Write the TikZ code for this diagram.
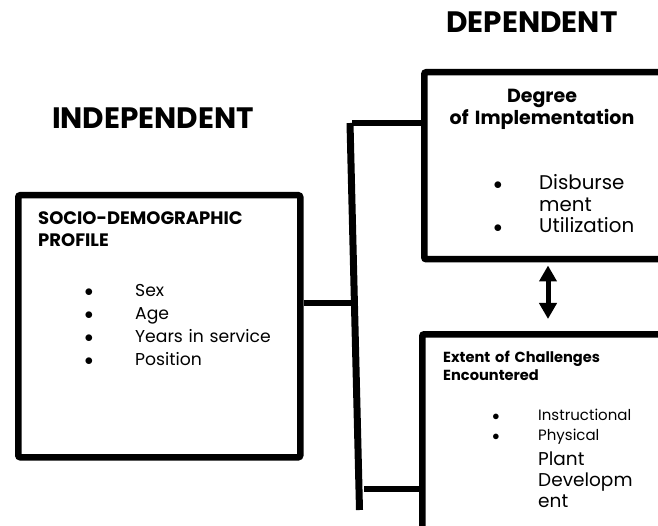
\documentclass[tikz,border=0pt]{standalone}
\usepackage{fontspec}
\setmainfont{Poppins}
\usetikzlibrary{arrows.meta}

\tikzset{
    box/.style={draw, line width=6.5pt, rounded corners=2pt, anchor=north west, inner sep=0pt},
    link/.style={line width=6.5pt},
    biarrow/.style={line width=5pt, {Triangle[width=17pt,length=16pt]}-{Triangle[width=17pt,length=16pt]}},
    heading/.style={font=\bfseries\fontsize{29.5}{32}\selectfont, inner sep=0pt, anchor=base},
    txt/.style={inner sep=0pt, anchor=base west, align=left, text width=#1},
    txt/.default=220pt,
    dots/.style={inner sep=0pt, anchor=base, align=center, text width=10pt}
}

\begin{document}
\begin{tikzpicture}[x=1pt, y=-1pt]
        \useasboundingbox (0,0) rectangle (658,526);

        % Headings
        \node[heading] (Indep) at (153,129) {INDEPENDENT};
        \node[heading] (Dep) at (532,33) {DEPENDENT};

        % Boxes
        \node[box, minimum width=282pt, minimum height=262pt] (Profile) at (15,192) {};
        \node[box, minimum width=254pt, minimum height=187pt] (Impl) at (421,69) {};
        \node[box, minimum width=258pt, minimum height=220pt] (Chall) at (419,331) {};

        % Box texts (profile)
        \node[txt, font=\bfseries\fontsize{18}{22}\selectfont] (ProfTitle) at (38,225) {SOCIO-DEMOGRAPHIC\\PROFILE};
        \node[dots, font=\fontsize{17}{22.7}\selectfont] (ProfDots) at (89,297) {$\bullet$\\$\bullet$\\$\bullet$\\$\bullet$};
        \node[txt, font=\fontsize{17.2}{22.7}\selectfont] (ProfItems) at (135,297) {Sex\\Age\\Years in service\\Position};

        % Box texts (implementation)
        \node[txt, anchor=base, align=center, font=\bfseries\fontsize{19}{22}\selectfont] (ImplTitle) at (542,103) {Degree\\of Implementation};
        \node[dots, font=\fontsize{19}{21.5}\selectfont] (ImplDots) at (498,190) {$\bullet$\\\mbox{}\\$\bullet$};
        \node[txt=115pt, font=\fontsize{19.8}{21.5}\selectfont] (ImplItems) at (539,190) {Disburse\\ment\\Utilization};

        % Box texts (challenges)
        \node[txt, font=\bfseries\fontsize{14.6}{18}\selectfont] (ChallTitle) at (443,362) {Extent of Challenges\\Encountered};
        \node[dots, font=\fontsize{14}{20}\selectfont] (ChallDots) at (496,420) {$\bullet$\\$\bullet$};
        \node[txt=115pt, font=\fontsize{15}{20}\selectfont] (ChallItems) at (538,420) {Instructional\\Physical};
        \node[txt=115pt, font=\fontsize{18.5}{21}\selectfont] (ChallMore) at (538,465) {Plant\\Developm\\ent};

        % Bar and joins
        \coordinate (BarTop) at (350,123);
        \coordinate (BarBot) at (359.5,510);
        \coordinate (MidJoin) at (354.4,303);
        \coordinate (LowJoin) at (364,489);
        \coordinate (ArrX) at (548,0);

        % Connecting Lines
        \draw[line width=7pt] (BarTop) -- (BarBot);
        \draw[link] (Profile.east |- MidJoin) -- (MidJoin);
        \draw[link] ([xshift=2pt]BarTop) -- (Impl.west |- BarTop);
        \draw[link] (LowJoin) -- (Chall.west |- LowJoin);
        \draw[biarrow, shorten <=3pt, shorten >=12pt] (Impl.south -| ArrX) -- (Chall.north -| ArrX);

\end{tikzpicture}
\end{document}
